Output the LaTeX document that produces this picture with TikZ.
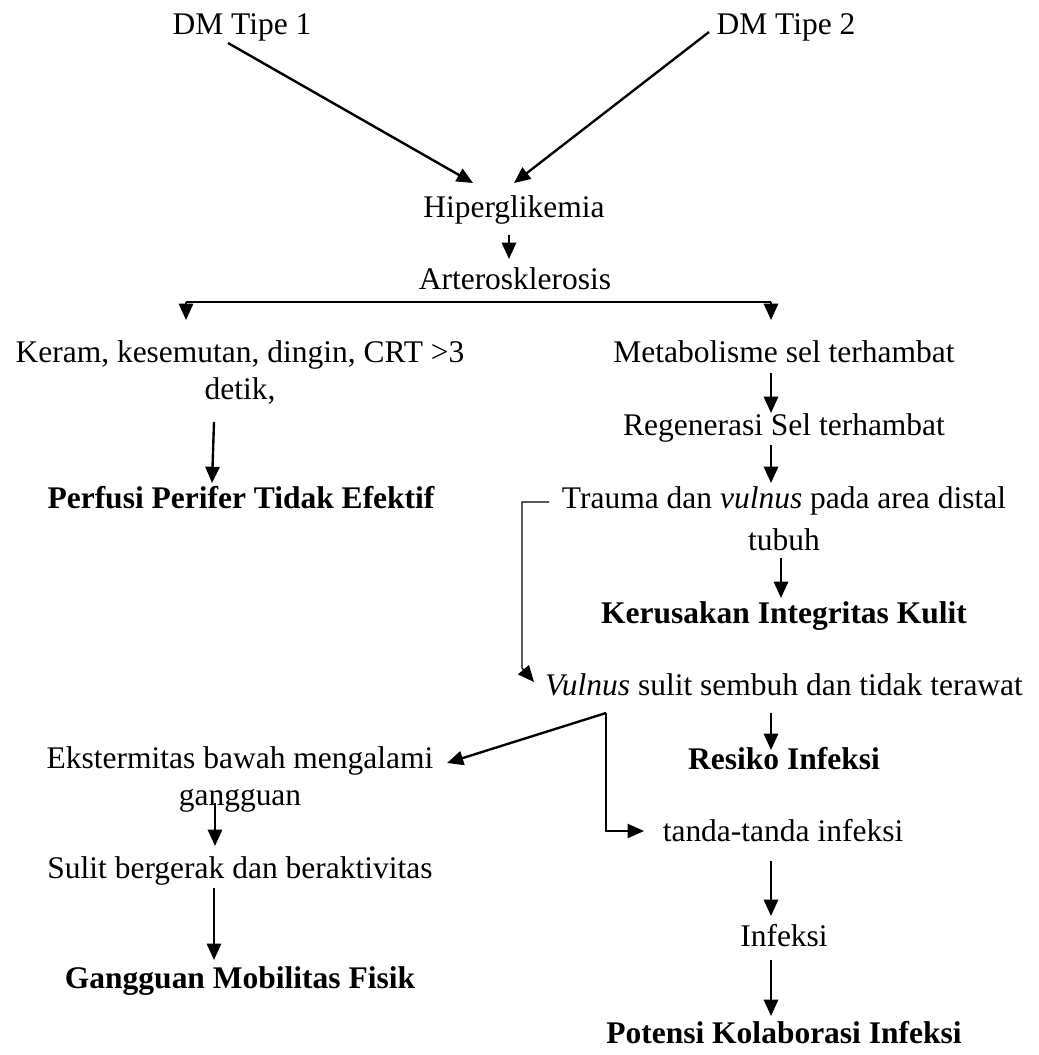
\documentclass[tikz,border=0pt]{standalone}
\usepackage{fontspec}
\setmainfont{Liberation Serif}
\usetikzlibrary{calc,arrows.meta}
\tikzset{
  lab/.style={inner sep=0pt, font=\fontsize{12}{14}\selectfont},
  dxlab/.style={inner sep=0pt, font=\fontsize{12}{14}\selectfont\bfseries},
  arr/.style={draw=black, line width=0.9pt, -{Triangle[length=6.2pt,width=5.4pt]}},
  thinarr/.style={draw=black, line width=0.55pt, -{Triangle[length=6.2pt,width=5.4pt]}},
  splitline/.style={draw=black, line width=0.9pt},
}
\begin{document}
\begin{tikzpicture}[x=0.381pt,y=-0.381pt]
\useasboundingbox (0,0) rectangle (1038,1055);

% Top causes
\node[lab, anchor=base] (dm1) at (242,35) {DM Tipe 1};
\node[lab, anchor=base] (dm2) at (786,35) {DM Tipe 2};
\node[lab, anchor=base] (hip) at (514,217) {Hiperglikemia};
\node[lab, anchor=base] (art) at (515,289) {Arterosklerosis};
\draw[arr] ($(dm1.base)+(-14,8)$) -- ($(hip.base)+(-41,-34)$);
\draw[arr] ($(dm2.base)+(-77,-3)$) -- ($(hip.base)+(0,-34)$);
\draw[arr] ($(hip.base)+(-5,18)$) -- ($(art.base)+(-6,-30)$);

% Left branch
\node[lab, anchor=north, align=center] (ker) at (240,340.5)
  {Keram, kesemutan, dingin, CRT >3\\detik,};
\node[dxlab, anchor=base] (per) at (241,508) {Perfusi Perifer Tidak Efektif};

% Right branch
\node[lab, anchor=base] (met) at (784,362) {Metabolisme sel terhambat};
\node[lab, anchor=base] (reg) at (784,435) {Regenerasi Sel terhambat};
\node[lab, anchor=north, align=center] (tra) at (784,486.5)
  {Trauma dan \textit{vulnus} pada area distal\\[2pt]tubuh};
\node[dxlab, anchor=base] (kul) at (784,623) {Kerusakan Integritas Kulit};
\node[lab, anchor=base] (vul) at (784,695) {\textit{Vulnus} sulit sembuh dan tidak terawat};
\node[dxlab, anchor=base] (res) at (784,769) {Resiko Infeksi};

% Split under Arterosklerosis
\coordinate (brl) at ($(art.base)+(-329,13)$);
\coordinate (brr) at ($(art.base)+(256,13)$);
\draw[splitline] (brl) -- (brr);
\draw[arr] (brl) -- ($(ker.north)+(-54,-20.5)$);
\draw[arr] (brr) -- ($(met.base)+(-13,-42)$);

\draw[arr] ($(ker.north)+(-26,81.5)$) -- ($(per.base)+(-29,-25)$);
\draw[arr] ($(met.base)+(-13,11)$) -- ($(reg.base)+(-13,-22)$);
\draw[arr] ($(reg.base)+(-13,10)$) -- ($(tra.north)+(-13,-3.5)$);
\draw[arr] ($(tra.north)+(-3,71.5)$) -- ($(kul.base)+(-3,-25)$);
\draw[thinarr] ($(tra.north)+(-235,15.5)$) -| ($(vul.base)+(-262,-27)$)
  -- ($(vul.base)+(-250,-13)$);
\draw[arr] ($(vul.base)+(-13,18)$) -- ($(res.base)+(-13,-19)$);

% Lower part
\node[lab, anchor=north, align=center] (eks) at (240,746.5)
  {Ekstermitas bawah mengalami\\gangguan};
\node[lab, anchor=base] (sul) at (240,878) {Sulit bergerak dan beraktivitas};
\node[dxlab, anchor=base] (gmf) at (240,988) {Gangguan Mobilitas Fisik};
\node[lab, anchor=base] (tan) at (783,841) {tanda-tanda infeksi};
\node[lab, anchor=base] (inf) at (784,946) {Infeksi};
\node[dxlab, anchor=base] (pki) at (784,1043) {Potensi Kolaborasi Infeksi};

\coordinate (fork) at ($(vul.base)+(-178,18)$);
\draw[arr] (fork) -- ($(eks.north)+(207,16.5)$);
\draw[thinarr] (fork) |- ($(tan.base)+(-139,-10)$);
\draw[arr] ($(eks.north)+(-25,56.5)$) -- ($(sul.base)+(-25,-32)$);
\draw[arr] ($(sul.base)+(-26,10)$) -- ($(gmf.base)+(-26,-28)$);
\draw[arr] ($(tan.base)+(-12,20)$) -- ($(inf.base)+(-13,-30)$);
\draw[arr] ($(inf.base)+(-13,14)$) -- ($(pki.base)+(-13,-27)$);
\end{tikzpicture}
\end{document}
